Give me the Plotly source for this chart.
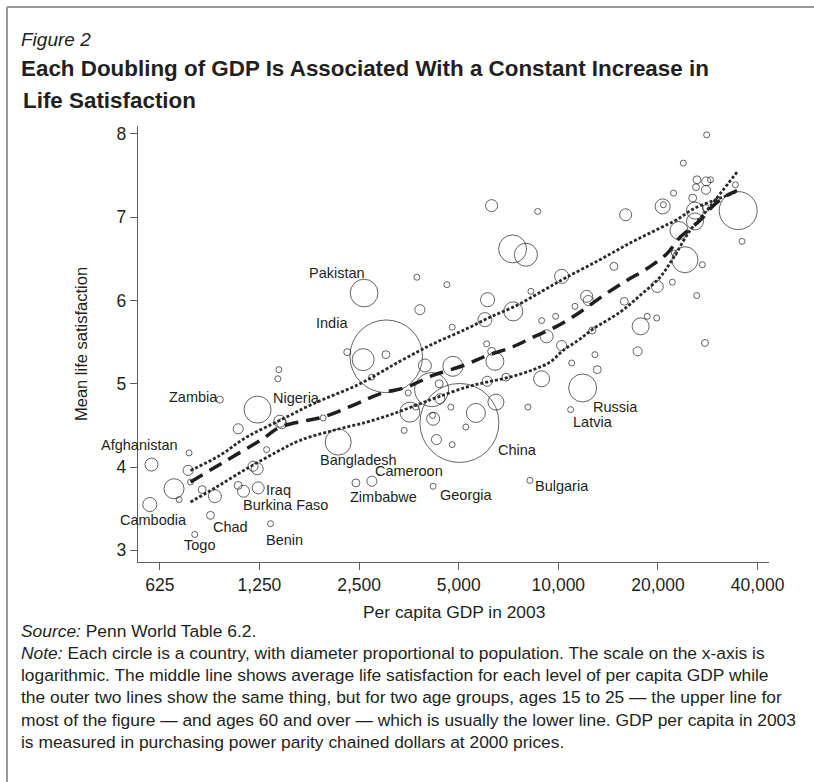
import math
import plotly.graph_objects as go

# ---------------- data ----------------
# per-capita GDP 2003 (PPP, 2000 $), mean life satisfaction, population (millions)
gdp = [590, 766, 761, 690, 715, 774, 583, 839, 917, 889,
       797, 1350, 1239, 1078, 1119, 1196, 1230, 1314, 1078, 1234,
       1440, 1461, 1431, 1421, 949, 1947, 2162, 2445, 2733, 2302,
       2572, 3013, 2727, 3020, 3518, 3952, 3422, 3560, 3712, 2589,
       3738, 3817, 4141, 4365, 4387, 4186, 4169, 5024, 4734, 5635,
       6477, 5255, 4283, 4779, 6097, 6944, 8903, 8093, 10893, 4186,
       8207, 6071, 6286, 6432, 4801, 9218, 10232, 17367, 27738, 10970,
       12901, 13109, 11842, 4606, 6113, 6000, 7306, 4779, 8264, 10232,
       11226, 8903, 9814, 12175, 12311, 12660, 14724, 15819, 17727, 18562,
       19820, 19903, 22104, 26186, 24135, 27222, 22407, 35884, 7276, 7981,
       6286, 8660, 15973, 20664, 20752, 22286, 25463, 25874, 25874, 23147,
       26236, 27990, 28819, 26054, 27932, 28068, 23851, 34281, 34949, 27932]
satisfaction = [4.03, 4.17, 3.96, 3.74, 3.61, 3.82, 3.55, 3.73, 3.65, 3.42,
                3.19, 3.32, 3.75, 3.78, 3.71, 4.01, 3.98, 4.21, 4.46, 4.69,
                4.55, 4.52, 5.17, 5.06, 4.81, 4.59, 4.30, 3.81, 3.83, 5.38,
                5.29, 5.35, 5.08, 5.33, 4.89, 5.22, 4.44, 4.66, 4.72, 6.09,
                6.28, 5.89, 4.93, 5.00, 4.82, 4.58, 4.62, 4.53, 4.72, 4.65,
                4.78, 4.48, 4.33, 4.27, 5.03, 5.08, 5.06, 4.72, 4.69, 3.77,
                3.84, 5.48, 5.39, 5.27, 5.21, 5.57, 5.46, 5.39, 5.49, 5.25,
                5.35, 5.17, 4.95, 6.19, 6.01, 5.77, 5.87, 5.68, 6.11, 6.29,
                5.93, 5.76, 5.81, 6.05, 6.00, 5.64, 6.41, 5.99, 5.69, 5.81,
                5.79, 6.17, 6.22, 6.06, 6.49, 6.43, 6.57, 6.71, 6.62, 6.55,
                7.14, 7.07, 7.03, 7.13, 7.15, 7.29, 7.23, 7.08, 6.95, 6.84,
                7.45, 7.43, 7.45, 7.36, 7.33, 7.99, 7.65, 7.39, 7.08, 7.11]
population = [35, 5.2, 21, 83, 7.5, 7.5, 41, 13, 35, 13,
              7.5, 7.5, 30, 13, 30, 21, 30, 7.5, 21, 151,
              30, 21, 5.2, 5.2, 10, 7.5, 140, 13, 21, 10,
              100, 13, 5.2, 1094, 5.2, 35, 7.5, 83, 7.5, 159,
              7.5, 21, 239, 13, 21, 35, 5.2, 1292, 7.5, 75,
              53, 5.2, 21, 5.2, 21, 13, 53, 3.3, 3.3, 5.2,
              7.5, 5.2, 13, 67, 83, 35, 21, 17, 10, 7.5,
              3.3, 13, 162, 3.3, 41, 41, 75, 7.5, 5.2, 41,
              7.5, 5.2, 5.2, 30, 21, 10, 13, 13, 60, 5.2,
              7.5, 30, 3.3, 7.5, 140, 7.5, 7.5, 5.2, 162, 110,
              30, 5.2, 30, 47, 7.5, 5.2, 13, 60, 60, 67,
              13, 17, 7.5, 10, 17, 7.5, 7.5, 7.5, 299, 10]

# smoothed average life satisfaction: all ages, ages 15-25, ages 60+
all_gdp = [774, 994, 1280, 1440, 1739, 1943, 2457, 2890, 3480, 4178, 5255, 6087, 7140,
           8395, 9882, 11621, 13672, 16084, 18481, 21243, 23321, 26789, 29386, 32269, 34650]
all_sat = [3.82, 4.08, 4.34, 4.48, 4.56, 4.60, 4.76, 4.88, 4.96, 5.10, 5.23, 5.34, 5.43,
           5.56, 5.69, 5.86, 6.06, 6.24, 6.38, 6.56, 6.76, 6.96, 7.14, 7.26, 7.32]
young_gdp = [774, 949, 1143, 1440, 1816, 2514, 3321, 4186, 5281, 6213, 7481, 9002, 10594,
             13357, 16458, 20279, 22785, 25570, 29386, 32269, 34598]
young_sat = [3.96, 4.14, 4.36, 4.56, 4.76, 5.00, 5.27, 5.48, 5.66, 5.80, 5.94, 6.12, 6.28,
             6.49, 6.69, 6.87, 6.97, 7.10, 7.20, 7.26, 7.31]
old_gdp = [774, 927, 1143, 1408, 1656, 2087, 2634, 3170, 3817, 4387, 5281, 6071, 7140,
           8395, 9432, 10325, 11461, 12750, 15355, 17647, 20279, 22248, 24988, 28068, 30791, 34949]
old_sat = [3.58, 3.76, 3.98, 4.18, 4.32, 4.44, 4.54, 4.64, 4.76, 4.85, 4.96, 5.02, 5.08,
           5.17, 5.26, 5.40, 5.52, 5.66, 5.86, 6.06, 6.28, 6.51, 6.84, 7.08, 7.28, 7.56]

label_text = ["Pakistan", "India", "Zambia", "Nigeria", "Afghanistan", "Ethiopia", "Cambodia",
              "Chad", "Togo", "Benin", "Iraq", "Burkina Faso", "Bangladesh", "Cameroon",
              "Zimbabwe", "Georgia", "Bulgaria", "China", "Russia", "Latvia"]
label_gdp = [2138, 2073, 788, 1618, 544, 521, 599, 1022, 826, 1492, 1424, 1502, 2497, 3548,
             2971, 5281, 10232, 7512, 14934, 12750]
label_sat = [6.33, 5.73, 4.84, 4.83, 4.27, 3.78, 3.37, 3.28, 3.06, 3.13, 3.72, 3.54, 4.09, 3.95,
             3.64, 3.67, 3.77, 4.21, 4.72, 4.54]

x_tickvals = [625, 1250, 2500, 5000, 10000, 20000, 40000]
x_ticktext = ["625", "1,250", "2,500", "5,000", "10,000", "20,000", "40,000"]
y_tickvals = [3, 4, 5, 6, 7, 8]

# ---------------- figure ----------------
W, H = 814, 782
L, R, T, B = 138, 45, 126, 220
PW, PH = W - L - R, H - T - B
INK = "#231f20"
AXC = "#5e5e5e"
FONT = "Liberation Sans, Arial, Helvetica, sans-serif"


def px(xp):
    return (xp - L) / PW


def py(yp):
    return (H - B - yp) / PH


fig = go.Figure()

max_pop = max(population)
fig.add_trace(go.Scatter(
    x=gdp, y=satisfaction, mode="markers",
    marker=dict(symbol="circle-open", color=INK, size=population,
                sizemode="area", sizeref=2 * max_pop / 79 ** 2, sizemin=3,
                line=dict(width=1, color=INK)),
    hoverinfo="skip", cliponaxis=False))

fig.add_trace(go.Scatter(x=young_gdp, y=young_sat, mode="lines",
                         line=dict(color="#2a2a2a", width=2.8, dash="3px,2px", shape="spline"),
                         hoverinfo="skip"))
fig.add_trace(go.Scatter(x=old_gdp, y=old_sat, mode="lines",
                         line=dict(color="#2a2a2a", width=2.8, dash="3px,2px", shape="spline"),
                         hoverinfo="skip"))
fig.add_trace(go.Scatter(x=all_gdp, y=all_sat, mode="lines",
                         line=dict(color="#1f1f1f", width=3.5, dash="14px,8px", shape="spline"),
                         hoverinfo="skip"))

annotations = []
for t, gx, sy in zip(label_text, label_gdp, label_sat):
    annotations.append(dict(x=math.log10(gx), y=sy, xref="x", yref="y", text=t,
                            showarrow=False, xanchor="center", yanchor="middle",
                            font=dict(size=14.5, color=INK, family=FONT)))


def ptext(text, xp, yp, size, xanchor="left", **kw):
    annotations.append(dict(x=px(xp), y=py(yp), xref="paper", yref="paper", text=text,
                            showarrow=False, xanchor=xanchor, yanchor="middle",
                            font=dict(size=size, color=INK, family=FONT), **kw))


ptext("<i>Figure 2</i>", 19, 39, 19)
ptext("<b>Each Doubling of GDP Is Associated With a Constant Increase in</b>", 19, 69, 22.4)
ptext("<b>Life Satisfaction</b>", 21, 100, 22.4)
ptext("Mean life satisfaction", 81, 344, 16.5, xanchor="center", textangle=-90)
ptext("Per capita GDP in 2003", 454, 612, 17.4, xanchor="center")
ptext("<i>Source:</i> Penn World Table 6.2.", 19, 631, 17.4)
note_lines = [
    "<i>Note:</i> Each circle is a country, with diameter proportional to population. The scale on the x-axis is",
    "logarithmic. The middle line shows average life satisfaction for each level of per capita GDP while",
    "the outer two lines show the same thing, but for two age groups, ages 15 to 25 \u2014 the upper line for",
    "most of the figure \u2014 and ages 60 and over \u2014 which is usually the lower line. GDP per capita in 2003",
    "is measured in purchasing power parity chained dollars at 2000 prices.",
]
for i, line in enumerate(note_lines):
    ptext(line, 19, 653 + 22.2 * i, 17.4)

shapes = [
    dict(type="line", xref="paper", yref="paper", x0=px(7), y0=py(7), x1=px(816), y1=py(7),
         line=dict(color="#9a9a9a", width=2)),
    dict(type="line", xref="paper", yref="paper", x0=px(7), y0=py(7), x1=px(7), y1=py(790),
         line=dict(color="#9a9a9a", width=2)),
]

fig.update_layout(
    width=W, height=H,
    margin=dict(l=L, r=R, t=T, b=B, pad=0),
    paper_bgcolor="white", plot_bgcolor="white",
    showlegend=False,
    font=dict(family=FONT, color=INK),
    annotations=annotations,
    shapes=shapes,
    xaxis=dict(type="log", range=[math.log10(537), math.log10(43300)],
               tickvals=x_tickvals, ticktext=x_ticktext,
               showline=True, linecolor=AXC, linewidth=1.3,
               ticks="outside", ticklen=7, tickcolor=AXC, tickwidth=1.3,
               tickfont=dict(size=17.5, color=INK, family=FONT),
               showgrid=False, zeroline=False),
    yaxis=dict(range=[2.86, 8.096], tickvals=y_tickvals,
               showline=True, linecolor=AXC, linewidth=1.3,
               ticks="outside", ticklen=7, tickcolor=AXC, tickwidth=1.3,
               tickfont=dict(size=17.5, color=INK, family=FONT),
               showgrid=False, zeroline=False),
)

fig.write_html("out.html", config={"displayModeBar": False},
               post_script=("document.body.style.margin='0px';"
                            "document.body.style.overflow='hidden';"
                            "document.documentElement.style.overflow='hidden';"))
